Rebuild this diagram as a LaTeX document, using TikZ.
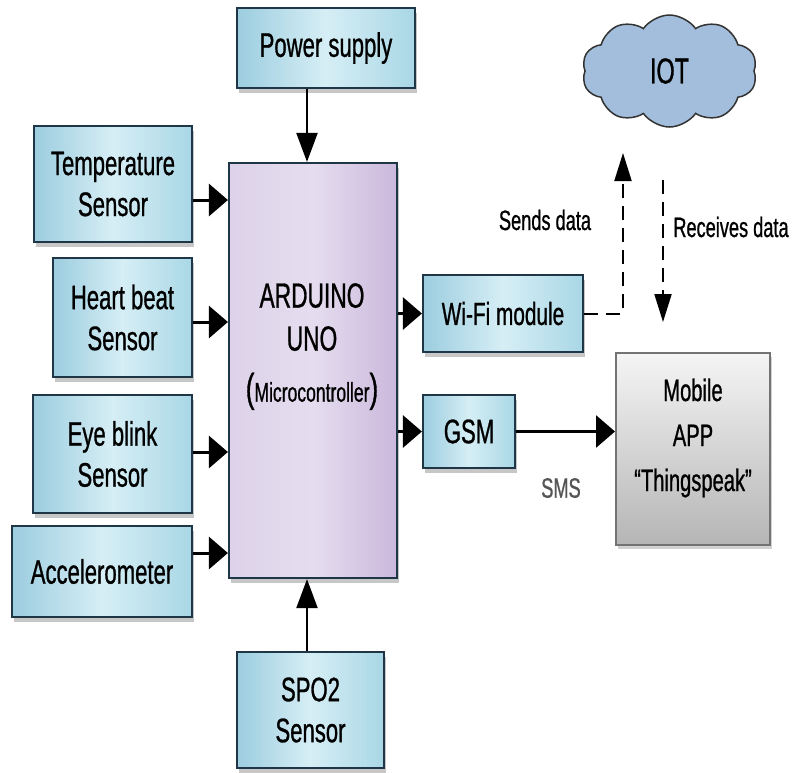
\documentclass[tikz,border=0pt]{standalone}
\usepackage{fontspec}
\setmainfont{Liberation Sans}[FakeStretch=0.65,FakeBold=0.8]
\usetikzlibrary{arrows.meta,shapes.symbols,shadows}
\definecolor{bluel}{HTML}{9CCDDF}
\definecolor{bluem}{HTML}{D6EEF5}
\definecolor{bluer}{HTML}{A9D7E6}
\definecolor{navy}{HTML}{1E3646}
\definecolor{purl}{HTML}{DDD2E9}
\definecolor{purm}{HTML}{E5DDEF}
\definecolor{purr}{HTML}{CBB8DC}
\definecolor{cloudc}{HTML}{A3BEDC}
\definecolor{smsgray}{HTML}{555555}
\tikzset{
  bluebox/.style={draw=navy, line width=2.2pt, left color=bluel, right color=bluer, middle color=bluem,
    align=center, inner sep=0pt, font=\fontsize{34}{41}\selectfont,
    drop shadow={shadow xshift=2pt, shadow yshift=-5pt, fill=gray!80, opacity=0.55}},
  harr/.style={line width=3pt, -{Triangle[length=19pt,width=32pt]}},
  varr/.style={line width=2.2pt, -{Triangle[length=29pt,width=21pt]}},
  dasharr/.style={line width=2pt, dash pattern=on 14pt off 8pt, -{Triangle[length=28pt,width=17pt]}},
  lbl/.style={font=\fontsize{28}{32}\selectfont, inner sep=0pt}
}
\begin{document}
\begin{tikzpicture}[x=1pt,y=-1pt]
\useasboundingbox (0,0) rectangle (792,772);
% boxes
\node[bluebox, minimum width=178pt, minimum height=80pt] (power) at (326,48) {Power supply};
\node[bluebox, minimum width=158pt, minimum height=116pt] (temp) at (113,184) {Temperature\\Sensor};
\node[bluebox, minimum width=139pt, minimum height=119pt] (heart) at (122.5,317.5) {Heart beat\\Sensor};
\node[bluebox, minimum width=159pt, minimum height=118pt] (eye) at (112.5,454) {Eye blink\\Sensor};
\node[bluebox, minimum width=180pt, minimum height=91pt] (accel) at (102,571.5) {Accelerometer};
\node[draw=navy, line width=2.2pt, left color=purl, right color=purr, middle color=purm,
  minimum width=168pt, minimum height=415pt, inner sep=0pt,
  drop shadow={shadow xshift=2pt, shadow yshift=-5pt, fill=gray!80, opacity=0.55}] (arduino) at (313,370.5) {};
\node[align=center, inner sep=0pt, anchor=north, font=\fontsize{35}{43}\selectfont] (arduinotxt) at (312,283)
  {ARDUINO\\UNO\\[8pt]%
   {\fontsize{40}{43}\selectfont(}{\fontsize{27}{43}\selectfont Microcontroller}{\fontsize{40}{43}\selectfont)}};
\node[bluebox, minimum width=147pt, minimum height=116pt] (spo) at (310.5,710) {SPO2\\Sensor};
\node[bluebox, minimum width=160pt, minimum height=77pt, font=\fontsize{32}{38}\selectfont] (wifi) at (503,313.5) {Wi-Fi module};
\node[bluebox, minimum width=92pt, minimum height=73pt] (gsm) at (469,431.5) {GSM};
\node[draw=gray!90!black, line width=2pt, top color=gray!8, bottom color=gray!58,
  minimum width=154pt, minimum height=192pt, inner sep=0pt,
  drop shadow={shadow xshift=2pt, shadow yshift=-4pt, fill=gray!70, opacity=0.5}] (mobile) at (693,449) {};
\node[align=center, inner sep=0pt, font=\fontsize{31}{45}\selectfont] (mobiletxt) at (693,438)
  {Mobile\\APP\\“Thingspeak”};
\node[cloud, cloud puffs=10, cloud puff arc=110, aspect=1.6, draw=black!80, line width=1.5pt, fill=cloudc,
  minimum width=175pt, minimum height=112pt, inner sep=0pt, font=\fontsize{36}{40}\selectfont] (iot) at (669.5,71) {IOT};
% arrows into arduino
\coordinate (atop) at ([xshift=-6pt]arduino.north);
\coordinate (abot) at ([xshift=-6pt]arduino.south);
\draw[varr] (atop |- power.south) -- (atop);
\draw[varr] (abot |- spo.north) -- (abot);
\draw[harr] (temp.east |- 0,200) -- (arduino.west |- 0,200);
\draw[harr] (heart.east |- 0,322) -- (arduino.west |- 0,322);
\draw[harr] (eye.east |- 0,452) -- (arduino.west |- 0,452);
\draw[harr] (accel.east |- 0,553) -- (arduino.west |- 0,553);
\draw[harr] (arduino.east |- wifi.west) -- (wifi.west);
\draw[harr] (arduino.east |- gsm.west) -- (gsm.west);
\draw[harr] (gsm.east) -- (mobile.west |- gsm.east);
% dashed
\coordinate (sendtop) at (623,153);
\coordinate (rtop) at (663,180);
\coordinate (rbot) at (663,322);
\draw[dasharr] (wifi.east) -| (sendtop);
\draw[dasharr] (rtop) -- (rbot);
% labels
\node[lbl] (sends) at (545,220) {Sends data};
\node[lbl] (recv) at (731,227) {Receives data};
\node[lbl, text=smsgray] (sms) at (561,488) {SMS};
\end{tikzpicture}
\end{document}
